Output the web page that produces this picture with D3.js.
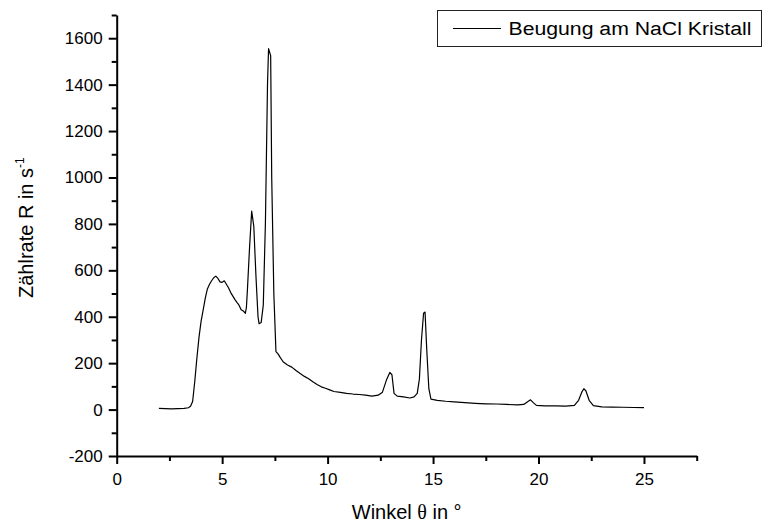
<!DOCTYPE html>
<html>
<head>
<meta charset="utf-8">
<script src="https://cdn.jsdelivr.net/npm/d3@7"></script>
<style>
  body { margin: 0; background: #fff; }
  text { font-family: "Liberation Sans", Arial, sans-serif; fill: #000; }
</style>
</head>
<body>
<script>
// Winkel theta in degrees
var angle = [2.0, 2.3, 2.6, 2.9, 3.2, 3.4, 3.5, 3.6, 3.7, 3.8, 3.9, 4.0, 4.1, 4.2, 4.3, 4.4, 4.5, 4.6, 4.7, 4.8,
  4.9, 5.0, 5.1, 5.2, 5.3, 5.4, 5.5, 5.6, 5.7, 5.8, 5.9, 6.0, 6.1, 6.15, 6.2, 6.3, 6.4, 6.5, 6.6, 6.7,
  6.75, 6.85, 6.95, 7.05, 7.15, 7.2, 7.3, 7.35, 7.45, 7.55, 7.65, 7.75, 7.9, 8.1, 8.3, 8.5, 8.7, 8.9, 9.1, 9.3,
  9.5, 9.7, 9.9, 10.1, 10.3, 10.6, 10.9, 11.2, 11.5, 11.8, 12.1, 12.4, 12.6, 12.8, 12.95, 13.05, 13.15, 13.3, 13.6, 13.9,
  14.1, 14.25, 14.35, 14.45, 14.55, 14.62, 14.7, 14.8, 14.9, 15.2, 15.6, 16.0, 16.5, 17.0, 17.5, 18.0, 18.5, 19.0, 19.3, 19.5,
  19.62, 19.75, 19.9, 20.3, 20.8, 21.3, 21.7, 21.9, 22.05, 22.15, 22.25, 22.4, 22.6, 23.0, 23.5, 24.0, 24.5, 25.0];
// Zaehlrate R in 1/s
var rate = [5, 4, 3, 4, 5, 8, 14, 35, 120, 220, 310, 380, 430, 480, 520, 540, 555, 568, 575, 565,
  550, 548, 555, 540, 525, 505, 490, 475, 462, 450, 430, 425, 415, 440, 520, 700, 855, 790, 580, 400,
  370, 375, 450, 800, 1400, 1555, 1525, 1000, 500, 250, 240, 225, 205, 192, 183, 168, 155, 143, 133, 120,
  108, 98, 92, 85, 78, 74, 70, 67, 65, 62, 58, 62, 75, 130, 160, 150, 70, 58, 55, 50,
  55, 70, 130, 300, 415, 420, 260, 90, 45, 40, 36, 33, 30, 27, 25, 24, 22, 20, 22, 35,
  42, 30, 18, 16, 16, 15, 18, 40, 75, 90, 80, 40, 17, 12, 11, 10, 9, 8];

var xMajor = [0, 5, 10, 15, 20, 25];
var xMinor = [2.5, 7.5, 12.5, 17.5, 22.5, 27.5];
var yMajor = [-200, 0, 200, 400, 600, 800, 1000, 1200, 1400, 1600];
var yMinor = [-100, 100, 300, 500, 700, 900, 1100, 1300, 1500, 1700];

var seriesName = "Beugung am NaCl Kristall";

var width = 763, height = 522;
var plotLeft = 116.7, plotRight = 696.7, plotTop = 15, plotBottom = 456;

var x = d3.scaleLinear().domain([0, 27.5]).range([plotLeft, plotRight]);
var y = d3.scaleLinear().domain([-200, 1700]).range([plotBottom, plotTop]);

var svg = d3.select("body").append("svg")
    .attr("width", width)
    .attr("height", height);

// minor ticks
svg.append("g")
    .attr("transform", `translate(0,${plotBottom})`)
    .call(d3.axisBottom(x).tickValues(xMinor).tickSize(5).tickSizeOuter(0).tickFormat(""))
    .call(g => g.select(".domain").remove());
svg.append("g")
    .attr("transform", `translate(${plotLeft},0)`)
    .call(d3.axisLeft(y).tickValues(yMinor).tickSize(5).tickSizeOuter(0).tickFormat(""))
    .call(g => g.select(".domain").remove());

// major ticks + labels
svg.append("g")
    .attr("transform", `translate(0,${plotBottom})`)
    .call(d3.axisBottom(x).tickValues(xMajor).tickSize(8).tickSizeOuter(0).tickPadding(9)
      .tickFormat(d => String(d)));
svg.append("g")
    .attr("transform", `translate(${plotLeft},0)`)
    .call(d3.axisLeft(y).tickValues(yMajor).tickSize(8).tickSizeOuter(0).tickPadding(6)
      .tickFormat(d => String(d)));

svg.selectAll(".tick line").attr("stroke", "#000").attr("stroke-width", 2);
svg.selectAll(".domain").attr("stroke", "#000").attr("stroke-width", 2);
svg.selectAll(".tick text")
    .style("font-family", '"Liberation Sans", Arial, sans-serif')
    .style("font-size", "17px")
    .attr("fill", "#000");

// data line
var line = d3.line()
    .x((d, i) => x(angle[i]))
    .y(d => y(d));

svg.append("path")
    .datum(rate)
    .attr("fill", "none")
    .attr("stroke", "#000")
    .attr("stroke-width", 1.2)
    .attr("stroke-linejoin", "round")
    .attr("d", line);

// axis titles
var xt = svg.append("text")
    .attr("x", (plotLeft + plotRight) / 2)
    .attr("y", 519)
    .attr("text-anchor", "middle")
    .attr("font-size", 20);
xt.append("tspan").text("Winkel ");
xt.append("tspan").style("font-family", '"Liberation Serif", "DejaVu Serif", serif').text("\u03b8");
xt.append("tspan").text(" in \u00b0");

var yt = svg.append("text")
    .attr("transform", "translate(33,298) rotate(-90)")
    .attr("font-size", 20);
yt.append("tspan").text("Zählrate R in s");
yt.append("tspan").attr("dy", -9).attr("font-size", 12).text("-1");

// legend
var lg = svg.append("g");
lg.append("rect")
    .attr("x", 437.5).attr("y", 10.5)
    .attr("width", 324).attr("height", 36)
    .attr("fill", "#fff")
    .attr("stroke", "#222")
    .attr("stroke-width", 1);
lg.append("line")
    .attr("x1", 453).attr("x2", 501)
    .attr("y1", 28.5).attr("y2", 28.5)
    .attr("stroke", "#000")
    .attr("stroke-width", 1.2);
lg.append("text")
    .attr("x", 508.5).attr("y", 34.5)
    .attr("font-size", 18)
    .attr("textLength", 243)
    .attr("lengthAdjust", "spacingAndGlyphs")
    .text(seriesName);
</script>
</body>
</html>
